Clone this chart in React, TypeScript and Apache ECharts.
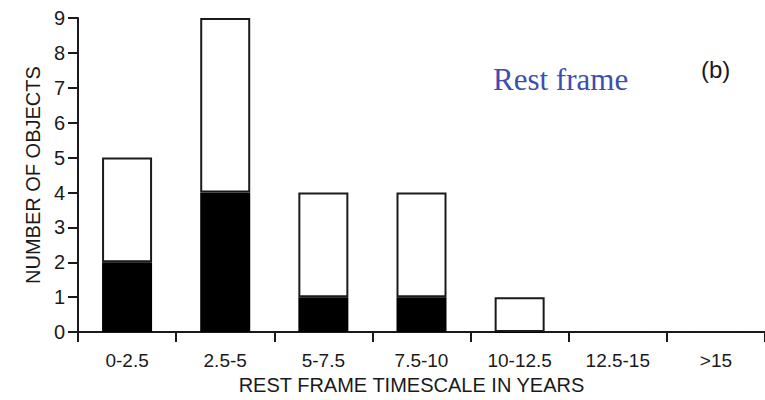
import React, { useEffect, useRef } from "react";
import * as echarts from "echarts";

const categories = ["0-2.5", "2.5-5", "5-7.5", "7.5-10", "10-12.5", "12.5-15", ">15"];
const blackCounts = [2, 4, 1, 1, 0, 0, 0];
const whiteCounts = [3, 5, 3, 3, 1, 0, 0];
const yTicks = [0, 1, 2, 3, 4, 5, 6, 7, 8, 9];

export default function App() {
  const ref = useRef<HTMLDivElement>(null);
  useEffect(() => {
    if (!ref.current) return;
    const chart = echarts.init(ref.current, null, { renderer: "svg" });
    const font = "Liberation Sans, Arial, sans-serif";
    chart.setOption({
      animation: false,
      backgroundColor: "#ffffff",
      grid: { left: 78, top: 18, right: 0, bottom: 67 },
      xAxis: {
        type: "category",
        data: categories,
        boundaryGap: true,
        name: "REST FRAME TIMESCALE IN YEARS",
        nameLocation: "middle",
        nameGap: 39,
        nameTextStyle: { fontFamily: font, fontSize: 20, color: "#1a1a1a", letterSpacing: 0.8, padding: [0, 20, 0, 0] },
        axisLine: { lineStyle: { color: "#1a1a1a", width: 2 } },
        axisTick: { show: true, inside: false, length: 10, lineStyle: { color: "#1a1a1a", width: 2 } },
        axisLabel: { fontFamily: font, fontSize: 19, color: "#1a1a1a", margin: 19 },
        splitLine: { show: false },
      },
      yAxis: {
        type: "value",
        min: yTicks[0],
        max: yTicks[yTicks.length - 1],
        interval: 1,
        name: "NUMBER OF OBJECTS",
        nameLocation: "middle",
        nameGap: 32,
        nameTextStyle: { fontFamily: font, fontSize: 20, color: "#1a1a1a" },
        axisLine: { show: true, lineStyle: { color: "#1a1a1a", width: 2 } },
        axisTick: { show: true, inside: false, length: 10, lineStyle: { color: "#1a1a1a", width: 2 } },
        axisLabel: { fontFamily: font, fontSize: 20, color: "#1a1a1a", margin: 13 },
        splitLine: { show: false },
      },
      series: [
        {
          type: "bar",
          stack: "total",
          data: blackCounts,
          barWidth: 50,
          itemStyle: { color: "#000000", borderColor: "#000000", borderWidth: 2 },
        },
        {
          type: "bar",
          stack: "total",
          data: whiteCounts,
          barWidth: 50,
          itemStyle: { color: "#ffffff", borderColor: "#1a1a1a", borderWidth: 2 },
        },
      ],
      graphic: [
        {
          type: "text",
          left: 493,
          top: 64,
          style: {
            text: "Rest frame",
            fontFamily: "Liberation Serif, Times New Roman, serif",
            fontSize: 31,
            fill: "#3f4db0",
          },
        },
        {
          type: "text",
          left: 701,
          top: 57,
          style: {
            text: "(b)",
            fontFamily: font,
            fontSize: 24,
            letterSpacing: 2,
            fill: "#1a1a1a",
          },
        },
      ],
    });
    return () => chart.dispose();
  }, []);
  return <div ref={ref} style={{ width: 765, height: 400, position: "absolute", left: 0, top: 0 }} />;
}
